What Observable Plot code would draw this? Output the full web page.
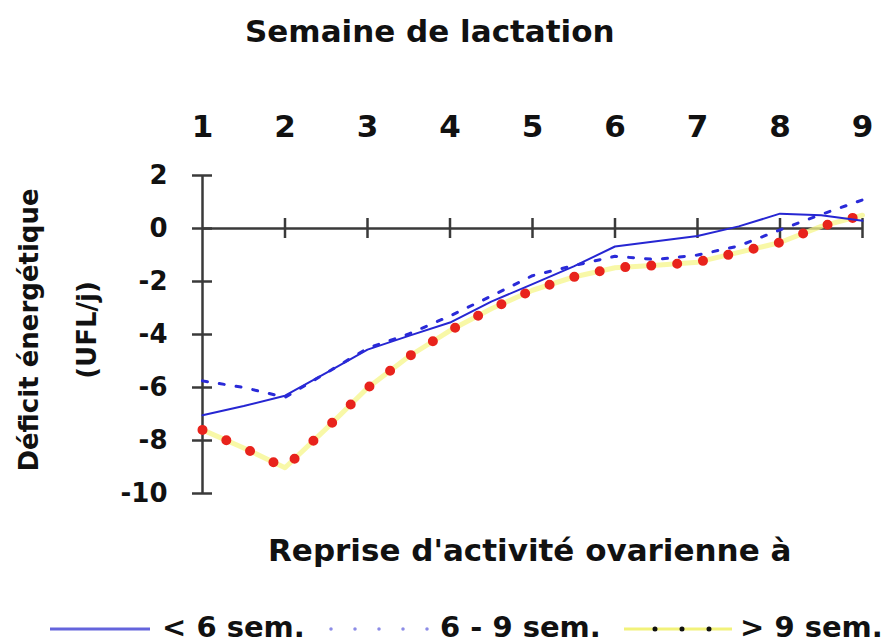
<!DOCTYPE html>
<html>
<head>
<meta charset="utf-8">
<script src="https://cdn.jsdelivr.net/npm/d3@7"></script>
<script src="https://cdn.jsdelivr.net/npm/@observablehq/plot@0.6"></script>
<style>
  html, body { margin: 0; padding: 0; background: #fff; }
  #wrap { position: relative; width: 892px; height: 644px; overflow: hidden; font-family: "DejaVu Sans", sans-serif; font-weight: bold; color: #111; }
  .lbl { position: absolute; white-space: nowrap; line-height: 1; }
  .rot { position: absolute; white-space: nowrap; line-height: 1; font-size: 26px; transform: translate(-50%, -50%) rotate(-90deg); }
  #plot { position: absolute; left: 0; top: 95px; }
  #legend { position: absolute; left: 0; top: 598px; }
</style>
</head>
<body>
<div id="wrap">
  <div class="lbl" style="left:245px; top:16px; font-size:31px;">Semaine de lactation</div>
  <div class="rot" style="left:29px; top:330px;">Déficit énergétique</div>
  <div class="rot" style="left:87px; top:330px;">(UFL/j)</div>
  <div id="plot"></div>
  <div class="lbl" style="left:268px; top:535px; font-size:31px;">Reprise d'activité ovarienne à</div>
  <div id="legend"></div>
</div>
<script>
// Data
const weeks = [1, 1.5, 2, 2.5, 3, 3.5, 4, 4.5, 5, 5.5, 6, 6.5, 7, 7.5, 8, 8.5, 9];
const lt6   = [-7.05, -6.7, -6.31, -5.45, -4.57, -4.05, -3.55, -2.76, -2.1, -1.43, -0.68, -0.48, -0.28, 0.08, 0.56, 0.5, 0.29];
const mid69 = [-5.75, -6.0, -6.37, -5.45, -4.52, -3.98, -3.3, -2.55, -1.78, -1.4, -1.05, -1.17, -1.0, -0.66, -0.05, 0.53, 1.08];
const gt9   = [-7.6, -8.28, -9.03, -7.55, -6.02, -4.83, -3.85, -3.03, -2.33, -1.83, -1.48, -1.39, -1.27, -0.9, -0.53, 0.08, 0.5];
const xTicks = [1, 2, 3, 4, 5, 6, 7, 8, 9];
const yTicks = [2, 0, -2, -4, -6, -8, -10];
const seriesNames = ["< 6 sem.", "6 - 9 sem.", "> 9 sem."];

const rows = (vals) => weeks.map((w, i) => ({w, v: vals[i]}));
const dLt6 = rows(lt6), dMid = rows(mid69), dGt9 = rows(gt9);
const axisColor = "#3a3a3a";

const chart = Plot.plot({
  width: 892,
  height: 420,
  marginTop: 80,
  marginBottom: 22,
  marginLeft: 202,
  marginRight: 30,
  style: {fontFamily: "DejaVu Sans, sans-serif", fontWeight: "bold", fontSize: "26px", color: "#111", background: "transparent"},
  x: {domain: [1, 9]},
  y: {domain: [-10, 2]},
  marks: [
    // axis lines
    Plot.ruleX([1], {stroke: axisColor, strokeWidth: 2.5}),
    Plot.ruleY([0], {stroke: axisColor, strokeWidth: 2.5}),
    // cross ticks
    Plot.ruleY(yTicks, {x1: 1, x2: 1, insetLeft: -10, insetRight: -10, stroke: axisColor, strokeWidth: 2.5}),
    Plot.ruleX(xTicks.slice(1), {y1: 0, y2: 0, insetTop: -10, insetBottom: -10, stroke: axisColor, strokeWidth: 2.5}),
    // tick labels
    Plot.axisX(xTicks, {anchor: "top", tickSize: 0, tickPadding: 39, fontSize: 31, label: null, tickFormat: d => String(d)}),
    Plot.axisY(yTicks, {anchor: "left", tickSize: 0, tickPadding: 35, label: null, tickFormat: d => String(d)}),
    // > 9 sem.: pale yellow line with red round dots
    Plot.line(dGt9, {x: "w", y: "v", stroke: "#f6f68a", strokeWidth: 5, strokeOpacity: 0.75}),
    Plot.line(dGt9, {x: "w", y: "v", stroke: "#e8231c", strokeWidth: 10, strokeLinecap: "round", strokeDasharray: "0 26"}),
    // < 6 sem.: solid blue
    Plot.line(dLt6, {x: "w", y: "v", stroke: "#2626d2", strokeWidth: 2}),
    // 6 - 9 sem.: dashed blue
    Plot.line(dMid, {x: "w", y: "v", stroke: "#2a2ad8", strokeWidth: 3, strokeDasharray: "5 12"})
  ]
});
document.getElementById("plot").appendChild(chart);

// Legend (built from the series names)
const ns = "http://www.w3.org/2000/svg";
const lg = document.createElementNS(ns, "svg");
lg.setAttribute("width", 892);
lg.setAttribute("height", 46);
lg.style.fontFamily = "DejaVu Sans, sans-serif";
lg.style.fontWeight = "bold";
lg.style.fontSize = "29px";
const cy = 31, base = 39;
function el(tag, attrs) { const e = document.createElementNS(ns, tag); for (const k in attrs) e.setAttribute(k, attrs[k]); lg.appendChild(e); return e; }
el("line", {x1: 50, x2: 150, y1: cy, y2: cy, stroke: "#6464dc", "stroke-width": 3});
el("text", {x: 162, y: base, fill: "#111"}).textContent = seriesNames[0];
el("line", {x1: 331, x2: 430, y1: cy, y2: cy, stroke: "#8c8ce6", "stroke-width": 3.5, "stroke-linecap": "round", "stroke-dasharray": "0 24"});
el("text", {x: 440, y: base, fill: "#111"}).textContent = seriesNames[1];
el("line", {x1: 624, x2: 732, y1: cy, y2: cy, stroke: "#f2f27a", "stroke-width": 3});
el("line", {x1: 655, x2: 712, y1: cy, y2: cy, stroke: "#111", "stroke-width": 5, "stroke-linecap": "round", "stroke-dasharray": "0 27"});
el("text", {x: 740, y: base, fill: "#111"}).textContent = seriesNames[2];
document.getElementById("legend").appendChild(lg);
</script>
</body>
</html>
